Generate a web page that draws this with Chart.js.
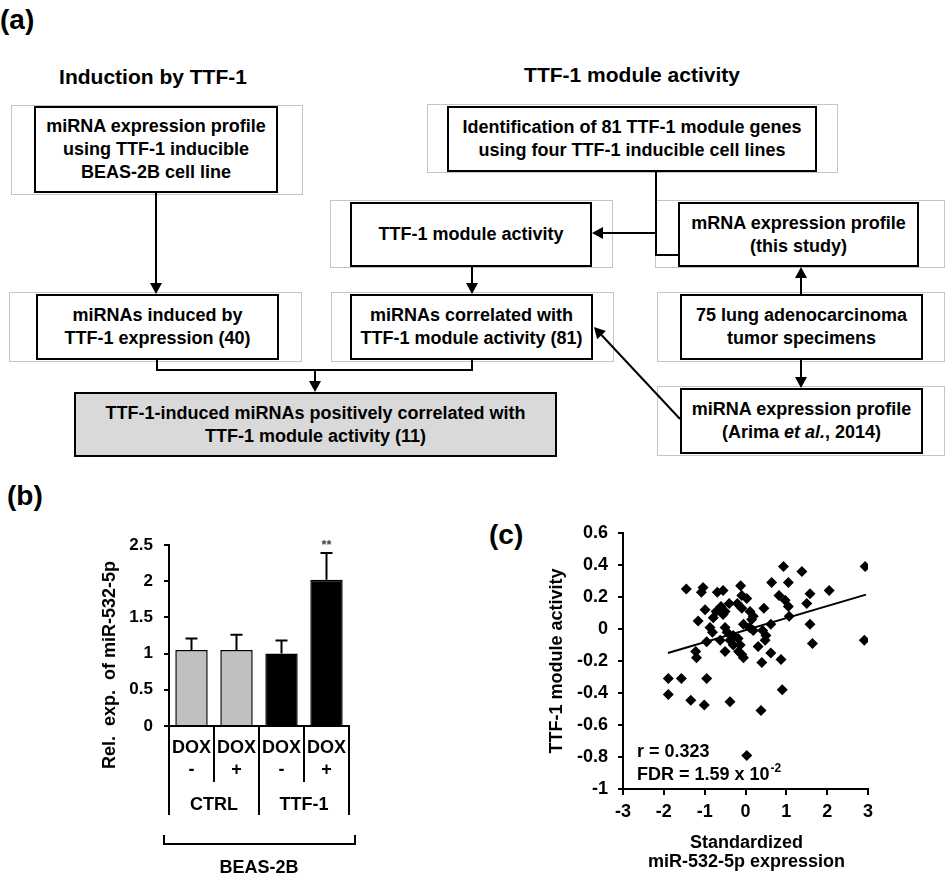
<!DOCTYPE html>
<html>
<head>
<meta charset="utf-8">
<script src="https://cdn.jsdelivr.net/npm/chart.js@4.4.1/dist/chart.umd.min.js"></script>
<style>
  body { margin: 0; background: #fff; }
  #page { position: relative; width: 946px; height: 878px; overflow: hidden;
          font-family: 'Liberation Sans', Arial, sans-serif; font-weight: bold; color: #000; }
  .tag  { position: absolute; font-size: 28px; line-height: 28px; }
  .head { position: absolute; font-size: 21px; line-height: 24px; text-align: center; white-space: nowrap; }
  .frame { position: absolute; border: 1px solid #c4c4c4; box-sizing: border-box; }
  .box  { position: absolute; border: 2px solid #000; box-sizing: border-box; background: #fff;
          display: flex; align-items: center; justify-content: center; text-align: center;
          font-size: 18px; line-height: 23px; white-space: nowrap; }
  .box.grey { background: #d9d9d9; }
  svg { position: absolute; left: 0; top: 0; }
  canvas { position: absolute; }
</style>
</head>
<body>
<div id="page">
  <div class="tag" style="left:0;top:6px;">(a)</div>
  <div class="tag" style="left:7px;top:482px;">(b)</div>
  <div class="tag" style="left:489px;top:521px;">(c)</div>

  <div class="head" style="left:33px;top:65px;width:240px;">Induction by TTF-1</div>
  <div class="head" style="left:512px;top:63px;width:240px;">TTF-1 module activity</div>

  <!-- light outer frames -->
  <div class="frame" style="left:11px;top:105px;width:292px;height:90px;"></div>
  <div class="frame" style="left:427px;top:104px;width:411px;height:69px;"></div>
  <div class="frame" style="left:330px;top:200px;width:283px;height:68px;"></div>
  <div class="frame" style="left:655px;top:200px;width:290px;height:68px;"></div>
  <div class="frame" style="left:9px;top:292px;width:293px;height:70px;"></div>
  <div class="frame" style="left:331px;top:292px;width:283px;height:70px;"></div>
  <div class="frame" style="left:657px;top:292px;width:288px;height:70px;"></div>
  <div class="frame" style="left:657px;top:386px;width:288px;height:70px;"></div>

  <svg id="links" width="946" height="470"></svg>

  <div class="box" style="left:34px;top:106px;width:244px;height:87px;"><div>miRNA expression profile<br>using TTF-1 inducible<br>BEAS-2B cell line</div></div>
  <div class="box" style="left:447px;top:106px;width:370px;height:66px;"><div>Identification of 81 TTF-1 module genes<br>using four TTF-1 inducible cell lines</div></div>
  <div class="box" style="left:350px;top:202px;width:242px;height:65px;"><div>TTF-1 module activity</div></div>
  <div class="box" style="left:678px;top:202px;width:241px;height:65px;"><div>mRNA expression profile<br>(this study)</div></div>
  <div class="box" style="left:36px;top:294px;width:243px;height:66px;"><div>miRNAs induced by<br>TTF-1 expression (40)</div></div>
  <div class="box" style="left:350px;top:294px;width:243px;height:66px;"><div>miRNAs correlated with<br>TTF-1 module activity (81)</div></div>
  <div class="box" style="left:680px;top:294px;width:243px;height:66px;"><div>75 lung adenocarcinoma<br>tumor specimens</div></div>
  <div class="box grey" style="left:74px;top:392px;width:483px;height:65px;"><div>TTF-1-induced miRNAs positively correlated with<br>TTF-1 module activity (11)</div></div>
  <div class="box" style="left:680px;top:388px;width:243px;height:66px;"><div>miRNA expression profile<br>(Arima <i>et al.</i>, 2014)</div></div>

  <canvas id="barChart" width="420" height="418" style="left:0;top:460px;"></canvas>
  <canvas id="scatterChart" width="466" height="418" style="left:480px;top:460px;"></canvas>
</div>

<script>
// ---- panel (b) data ----
const barLabels   = ['CTRL DOX-', 'CTRL DOX+', 'TTF-1 DOX-', 'TTF-1 DOX+'];
const doxLabels   = ['-', '+', '-', '+'];
const groupLabels = ['CTRL', 'TTF-1'];
const barMeans    = [1.05, 1.05, 1.0, 2.02];
const barSD       = [0.16, 0.21, 0.18, 0.37];
const barSig      = ['', '', '', '**'];
const barColors   = ['#c0c0c0', '#c0c0c0', '#000000', '#000000'];
const barYTicks   = [0, 0.5, 1, 1.5, 2, 2.5];

// ---- panel (c) data ----
const scatterX = [-1.45, -1.04, -1.08, -0.69, -0.55, -0.12, -0.09, 0.03, 0.64, 0.93,
                  1.38, 2.93, 1.05, 0.82, 0.97, 1.05, 1.58, 1.50, 2.05, -0.99,
                  -0.79, -1.16, -0.60, -0.40, -0.50, -0.55, -0.09, 0.11, 0.19, 0.45,
                  1.07, -0.87, -0.81, -0.50, -0.45, -0.30, -0.18, 0.10, 0.19, 0.42,
                  0.50, 0.48, 1.58, 1.64, 2.91, -0.95, -0.62, -0.30, -0.13, 0.31,
                  -0.09, -0.50, -1.22, -1.20, 0.62, 0.40, 0.87, -0.05, -0.17, -1.89,
                  -1.57, -0.95, -1.89, -1.34, -1.01, -0.38, 0.38, 0.90, 0.03, -0.72,
                  -0.20, 0.15, -0.38, 0.62, -0.05];
const scatterY = [0.25, 0.26, 0.23, 0.23, 0.24, 0.27, 0.21, 0.19, 0.29, 0.39,
                  0.36, 0.39, 0.29, 0.21, 0.18, 0.14, 0.22, 0.16, 0.24, 0.12,
                  0.07, 0.05, 0.14, 0.16, 0.11, 0.09, 0.13, 0.11, 0.08, 0.13,
                  0.08, 0.01, -0.02, 0.01, -0.02, -0.04, -0.06, 0.01, -0.01, -0.01,
                  -0.04, -0.07, 0.03, -0.09, -0.07, -0.08, -0.07, -0.10, -0.10, -0.11,
                  -0.16, -0.14, -0.14, -0.18, -0.15, -0.21, -0.19, -0.18, -0.14, -0.31,
                  -0.31, -0.31, -0.41, -0.445, -0.475, -0.455, -0.51, -0.38, -0.79, 0.11,
                  0.16, 0.06, -0.07, 0.03, 0.03];
const trendX = [-1.9, 2.95];
const trendY = [-0.15, 0.215];
const scatterXTicks = [-3, -2, -1, 0, 1, 2, 3];
const scatterYTicks = [-1, -0.8, -0.6, -0.4, -0.2, 0, 0.2, 0.4, 0.6];

const FONT = "'Liberation Sans', Arial, sans-serif";
const tickFont = size => ({ family: FONT, size: size, weight: 'bold' });

// ---- flowchart connectors ----
(function () {
  const svg = document.getElementById('links');
  const NS = 'http://www.w3.org/2000/svg';
  function line(pts) {
    const p = document.createElementNS(NS, 'polyline');
    p.setAttribute('points', pts.map(q => q.join(',')).join(' '));
    p.setAttribute('fill', 'none');
    p.setAttribute('stroke', '#000');
    p.setAttribute('stroke-width', '2');
    svg.appendChild(p);
  }
  function arrow(x1, y1, x2, y2) {
    const L = 11, W = 6;
    const len = Math.hypot(x2 - x1, y2 - y1);
    const ux = (x2 - x1) / len, uy = (y2 - y1) / len;
    const bx = x2 - ux * L, by = y2 - uy * L;
    line([[x1, y1], [bx, by]]);
    const t = document.createElementNS(NS, 'polygon');
    t.setAttribute('points', [[x2, y2], [bx - uy * W, by + ux * W], [bx + uy * W, by - ux * W]]
      .map(q => q.join(',')).join(' '));
    t.setAttribute('fill', '#000');
    svg.appendChild(t);
  }
  arrow(156, 193, 156, 294);
  line([[656, 172], [656, 255], [678, 255]]);
  arrow(656, 233, 592, 233);
  arrow(472, 267, 472, 294);
  arrow(801, 294, 801, 267);
  arrow(801, 360, 801, 388);
  arrow(680, 419, 594, 327);
  line([[157, 360], [157, 370], [472, 370], [472, 360]]);
  arrow(315, 370, 315, 392);
})();

// ---- panel (b): bar chart ----
const barDecor = {
  id: 'barDecor',
  afterDatasetsDraw(chart) {
    const ctx = chart.ctx, y = chart.scales.y;
    const meta = chart.getDatasetMeta(0);
    ctx.save();
    ctx.strokeStyle = '#000';
    ctx.lineWidth = 2;
    meta.data.forEach((bar, i) => {
      const top = y.getPixelForValue(barMeans[i] + barSD[i]);
      ctx.beginPath();
      ctx.moveTo(bar.x, bar.y);
      ctx.lineTo(bar.x, top);
      ctx.moveTo(bar.x - 6, top);
      ctx.lineTo(bar.x + 6, top);
      ctx.stroke();
      if (barSig[i]) {
        ctx.fillStyle = '#444';
        ctx.font = 'bold 13px ' + FONT;
        ctx.textAlign = 'center';
        ctx.textBaseline = 'middle';
        ctx.fillText(barSig[i], bar.x, top - 8);
      }
    });
    ctx.restore();
  },
  afterDraw(chart) {
    const ctx = chart.ctx, xs = chart.scales.x;
    const bottom = chart.chartArea.bottom;
    const w = (xs.right - xs.left) / barLabels.length;
    ctx.save();
    ctx.strokeStyle = '#000';
    ctx.lineWidth = 2;
    ctx.beginPath();
    for (let i = 0; i <= barLabels.length; i++) {
      const x = xs.left + i * w;
      ctx.moveTo(x, bottom);
      ctx.lineTo(x, bottom + (i % 2 === 0 ? 89 : 56));
    }
    // BEAS-2B bracket
    ctx.moveTo(xs.left - 5, bottom + 109);
    ctx.lineTo(xs.left - 5, bottom + 118);
    ctx.lineTo(xs.right + 6, bottom + 118);
    ctx.lineTo(xs.right + 6, bottom + 109);
    ctx.stroke();

    ctx.fillStyle = '#000';
    ctx.font = 'bold 18px ' + FONT;
    ctx.textAlign = 'center';
    ctx.textBaseline = 'middle';
    barLabels.forEach((_, i) => {
      const cx = xs.left + (i + 0.5) * w;
      ctx.fillText('DOX', cx, bottom + 22);
      ctx.fillText(doxLabels[i], cx, bottom + 44);
    });
    groupLabels.forEach((g, j) => {
      ctx.fillText(g, xs.left + (2 * j + 1) * w, bottom + 79);
    });
    ctx.fillText('BEAS-2B', (xs.left + xs.right) / 2, bottom + 142);

    ctx.translate(110, 205);
    ctx.rotate(-Math.PI / 2);
    ctx.fillText('Rel.  exp.  of miR-532-5p', 0, 0);
    ctx.restore();
  }
};

new Chart(document.getElementById('barChart'), {
  type: 'bar',
  data: {
    labels: barLabels,
    datasets: [{
      data: barMeans,
      backgroundColor: barColors,
      borderColor: '#000',
      borderWidth: 1.5,
      barPercentage: 0.72,
      categoryPercentage: 1
    }]
  },
  options: {
    responsive: false,
    animation: false,
    layout: { padding: { left: 0, right: 71, top: 85, bottom: 0 } },
    plugins: { legend: { display: false }, tooltip: { enabled: false } },
    scales: {
      x: {
        grid: { display: false },
        ticks: { display: false },
        border: { display: true, color: '#000', width: 2 },
        afterFit: s => { s.height = 152; }
      },
      y: {
        min: 0, max: 2.5,
        afterBuildTicks: s => { s.ticks = barYTicks.map(v => ({ value: v })); },
        ticks: { color: '#000', font: tickFont(17), padding: 11, callback: v => String(v) },
        grid: { drawOnChartArea: false, drawTicks: true, tickLength: 5, color: '#000', lineWidth: 2 },
        border: { display: true, color: '#000', width: 2 },
        afterFit: s => { s.width = 169; }
      }
    }
  },
  plugins: [barDecor]
});

// ---- panel (c): scatter ----
const scatterDecor = {
  id: 'scatterDecor',
  afterDraw(chart) {
    const ctx = chart.ctx, a = chart.chartArea;
    ctx.save();
    ctx.fillStyle = '#000';
    ctx.font = 'bold 18px ' + FONT;
    ctx.textAlign = 'center';
    ctx.textBaseline = 'middle';
    const cx = (a.left + a.right) / 2;
    ctx.fillText('Standardized', cx + 1, a.bottom + 54);
    ctx.fillText('miR-532-5p expression', cx + 1, a.bottom + 73);

    ctx.textAlign = 'left';
    ctx.fillText('r = 0.323', a.left + 14, a.bottom - 37);
    const fdr = 'FDR = 1.59 x 10';
    ctx.fillText(fdr, a.left + 14, a.bottom - 14);
    const wFdr = ctx.measureText(fdr).width;
    ctx.font = 'bold 12px ' + FONT;
    ctx.fillText('-2', a.left + 14 + wFdr + 1, a.bottom - 20);

    ctx.font = 'bold 18px ' + FONT;
    ctx.textAlign = 'center';
    ctx.translate(77, (a.top + a.bottom) / 2);
    ctx.rotate(-Math.PI / 2);
    ctx.fillText('TTF-1 module activity', 0, 0);
    ctx.restore();
  }
};

new Chart(document.getElementById('scatterChart'), {
  type: 'scatter',
  data: {
    datasets: [
      {
        data: trendX.map((x, i) => ({ x: x, y: trendY[i] })),
        showLine: true,
        borderColor: '#000',
        borderWidth: 2,
        pointRadius: 0
      },
      {
        data: scatterX.map((x, i) => ({ x: x, y: scatterY[i] })),
        pointStyle: 'rectRot',
        pointRadius: 5.5,
        backgroundColor: '#000',
        borderColor: '#000',
        borderWidth: 0
      }
    ]
  },
  options: {
    responsive: false,
    animation: false,
    layout: { padding: { left: 0, right: 78, top: 73, bottom: 0 } },
    plugins: { legend: { display: false }, tooltip: { enabled: false } },
    scales: {
      x: {
        type: 'linear', min: -3, max: 3,
        afterBuildTicks: s => { s.ticks = scatterXTicks.map(v => ({ value: v })); },
        ticks: { color: '#000', font: tickFont(18), padding: 6, callback: v => String(v) },
        grid: { drawOnChartArea: false, drawTicks: true, tickLength: 6, color: '#000', lineWidth: 2 },
        border: { display: true, color: '#000', width: 2 },
        afterFit: s => { s.height = 89; }
      },
      y: {
        type: 'linear', min: -1, max: 0.6,
        afterBuildTicks: s => { s.ticks = scatterYTicks.map(v => ({ value: v })); },
        ticks: { color: '#000', font: tickFont(18), padding: 10, callback: v => String(v) },
        grid: { drawOnChartArea: false, drawTicks: true, tickLength: 5, color: '#000', lineWidth: 2 },
        border: { display: true, color: '#000', width: 2 },
        afterFit: s => { s.width = 143; }
      }
    }
  },
  plugins: [scatterDecor]
});
</script>
</body>
</html>
